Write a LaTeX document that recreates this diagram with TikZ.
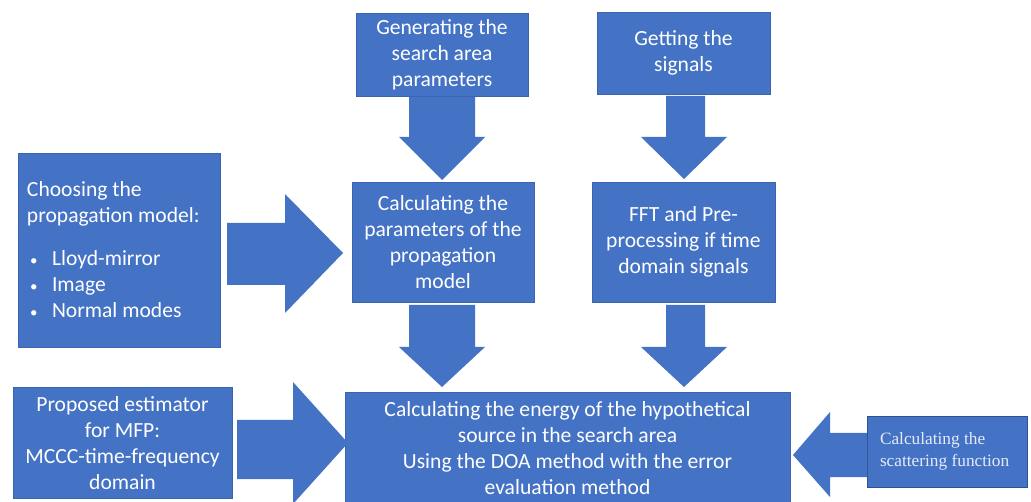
\documentclass[tikz,border=0pt]{standalone}
\usepackage{fontspec}
\setmainfont{Carlito}
\newfontfamily\serifbox{Liberation Serif}
\definecolor{obl}{HTML}{4472C4}
\definecolor{obd}{HTML}{3A64B0}
\definecolor{obb}{HTML}{2F528F}
\definecolor{paletxt}{HTML}{E4ECF8}
\newcommand{\bulletitem}{\makebox[25pt][l]{\hspace{3pt}{\fontsize{15}{15}\selectfont •}}}
\begin{document}
\begin{tikzpicture}[x=1pt,y=-1pt,
  box/.style={fill=obl,draw=obd,line width=0.8pt,text=white,inner sep=0pt,align=center,
     font=\fontsize{21.6}{26}\selectfont},
  barrow/.style={fill=obl,draw=none}]
\useasboundingbox (0,0) rectangle (1031,502);
\fill[white] (0,0) rectangle (1031,502);

\node[box,minimum width=172pt,minimum height=83pt] (gen) at (442,54.5)
  {Generating the\\search area\\parameters};
\node[box,minimum width=173pt,minimum height=82pt] (get) at (683.5,53)
  {Getting the\\signals};
\node[box,minimum width=202pt,minimum height=194pt,text width=184pt,align=flush left] (cho) at (119,250)
  {Choosing the\\propagation model:\\[17pt]%
   \bulletitem Lloyd-mirror\\
   \bulletitem Image\\
   \bulletitem Normal modes};
\node[box,minimum width=182pt,minimum height=120pt] (par) at (443,242)
  {Calculating the\\parameters of the\\propagation\\model};
\node[box,minimum width=183pt,minimum height=120pt] (fft) at (683.5,242)
  {FFT and Pre-\\processing if time\\domain signals};
\node[box,minimum width=219pt,minimum height=111pt] (pro) at (122.5,443)
  {Proposed estimator\\for MFP:\\MCCC-time-frequency\\domain};
\node[box,minimum width=445pt,minimum height=112pt] (ene) at (567.5,448)
  {Calculating the energy of the hypothetical\\source in the search area\\Using the DOA method with the error\\evaluation method};
\node[box,draw=obb,minimum width=160pt,minimum height=71pt,text width=134pt,align=flush left,
      text=paletxt,font=\serifbox\fontsize{17.3}{22}\selectfont] (sca) at (947,451.5)
  {Calculating the\\scattering function};

% block arrows
\fill[barrow] (409,97) -- (475,97) -- (475,137) -- (485,137) -- (442,180) -- (399,137) -- (409,137) -- cycle;
\fill[barrow] (666,96) -- (705,96) -- (705,137) -- (727,137) -- (684,179) -- (641,137) -- (666,137) -- cycle;
\fill[barrow] (227,223) -- (285,223) -- (285,194) -- (343,253) -- (285,313) -- (285,285) -- (227,285) -- cycle;
\fill[barrow] (409,305) -- (475,305) -- (475,347) -- (485,347) -- (442,387) -- (399,347) -- (409,347) -- cycle;
\fill[barrow] (666,305) -- (705,305) -- (705,347) -- (727,347) -- (684,387) -- (641,347) -- (666,347) -- cycle;
\fill[barrow] (237,420) -- (293,420) -- (293,382) -- (348,443) -- (293,504) -- (293,479) -- (237,479) -- cycle;
\fill[barrow] (867,433) -- (830,433) -- (830,412) -- (793,455) -- (830,497) -- (830,477) -- (867,477) -- cycle;
\end{tikzpicture}
\end{document}
